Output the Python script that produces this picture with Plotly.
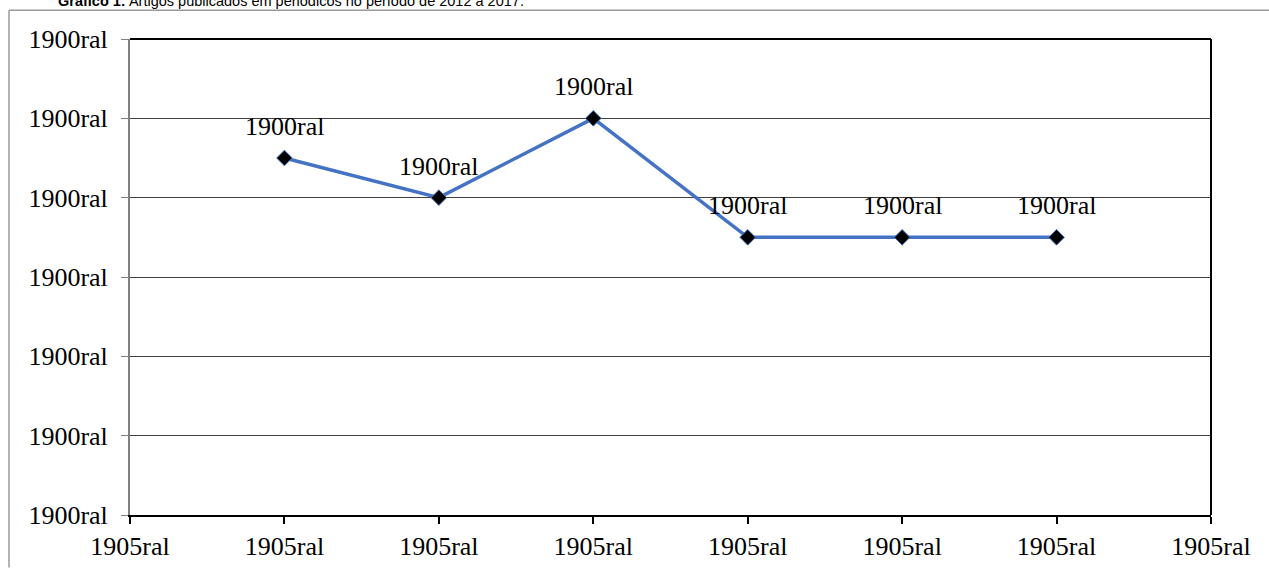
import plotly.graph_objects as go

# data
x_pos = [1, 2, 3, 4, 5, 6]
values = [9, 8, 10, 7, 7, 7]
point_labels = ["1900ral"] * 6
x_tick_vals = [0, 1, 2, 3, 4, 5, 6, 7]
x_tick_text = ["1905ral"] * 8
y_tick_vals = [0, 2, 4, 6, 8, 10, 12]
y_tick_text = ["1900ral"] * 7
title_text = "<b>Gráfico 1:</b> Artigos publicados em periódicos no período de 2012 a 2017."

W, H = 1269, 573
L, R, T, B = 130, 58, 39, 53
pw, ph = W - L - R, H - T - B

def px_x(p):
    return (p - L) / pw

def px_y(p):
    return 1 + (T - p) / ph

serif = "Liberation Serif, Times New Roman, serif"

fig = go.Figure()
fig.add_trace(go.Scatter(
    x=x_pos, y=values, mode="lines+markers",
    line=dict(color="#4472C4", width=3.5),
    marker=dict(symbol="diamond", size=12, color="black",
                line=dict(color="#4472C4", width=1)),
    showlegend=False, hoverinfo="skip",
))

annotations = []
for xv, yv, lab in zip(x_pos, values, point_labels):
    annotations.append(dict(
        x=xv, y=yv, xref="x", yref="y", text=lab, showarrow=False,
        yanchor="bottom", xanchor="center", yshift=15,
        font=dict(family=serif, size=26, color="black"),
    ))
annotations.append(dict(
    x=px_x(56), y=px_y(10.5), xref="paper", yref="paper", text=title_text,
    showarrow=False, xanchor="left", yanchor="bottom",
    font=dict(family="Liberation Sans, Arial, sans-serif", size=14.5, color="black"),
))

shapes = [
    # outer frame (gray)
    dict(type="line", xref="paper", yref="paper", x0=px_x(9), x1=px_x(1269),
         y0=px_y(10), y1=px_y(10), line=dict(color="#9a9a9a", width=1.5)),
    dict(type="line", xref="paper", yref="paper", x0=px_x(9), x1=px_x(9),
         y0=px_y(10), y1=px_y(573), line=dict(color="#9a9a9a", width=1.5)),
    # plot frame top & right (black)
    dict(type="line", xref="paper", yref="paper", x0=0, x1=1, y0=1, y1=1,
         line=dict(color="black", width=2)),
    dict(type="line", xref="paper", yref="paper", x0=1, x1=1, y0=0, y1=1,
         line=dict(color="black", width=2)),
]

fig.update_layout(
    width=W, height=H, autosize=False,
    margin=dict(l=L, r=R, t=T, b=B),
    paper_bgcolor="white", plot_bgcolor="white",
    annotations=annotations, shapes=shapes,
    xaxis=dict(
        range=[0, 7], tickmode="array", tickvals=x_tick_vals, ticktext=x_tick_text,
        showgrid=False, zeroline=False, showline=True, linecolor="black", linewidth=2,
        ticks="outside", ticklen=7, tickcolor="black", tickwidth=2,
        tickfont=dict(family=serif, size=26, color="black"),
    ),
    yaxis=dict(
        range=[0, 12], tickmode="array", tickvals=y_tick_vals, ticktext=y_tick_text,
        showgrid=True, gridcolor="#404040", gridwidth=1.3, zeroline=False,
        showline=True, linecolor="#808080", linewidth=2,
        ticks="outside", ticklen=7, tickcolor="#808080", tickwidth=1,
        ticklabelstandoff=8,
        tickfont=dict(family=serif, size=26, color="black"),
    ),
)

fig.write_html("out.html", config={"displayModeBar": False, "responsive": False},
               post_script="document.body.style.margin='0';document.body.style.overflow='hidden';")
